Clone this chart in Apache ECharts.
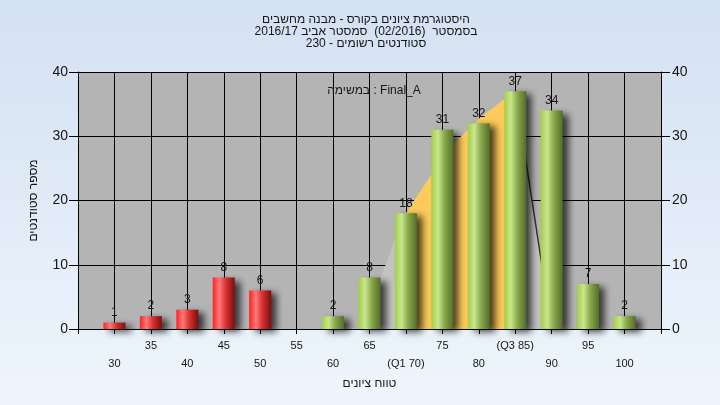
<!DOCTYPE html>
<html>
<head>
<meta charset="utf-8">
<script src="https://cdn.jsdelivr.net/npm/echarts@6/dist/echarts.min.js"></script>
<style>html,body{margin:0;padding:0;}#c{width:720px;height:405px;}</style>
</head>
<body>
<div id="c"></div>
<script>
// ---- data ----
var categories = [30, 35, 40, 45, 50, 55, 60, 65, 70, 75, 80, 85, 90, 95, 100];
var counts = [1, 2, 3, 8, 6, 0, 2, 8, 18, 31, 32, 37, 34, 7, 2];
var tickLabels = ['30', '35', '40', '45', '50', '55', '60', '65', '(Q1 70)', '75', '80', '(Q3 85)', '90', '95', '100'];
var yTicks = [0, 10, 20, 30, 40];
var curveX = [64, 66.4, 68.5, 70, 73.3, 76.7, 79.8, 83.3, 85, 90];
var curveY = [0, 7.6, 13.9, 18, 23.7, 29, 32.5, 35.6, 37, 0];
var q1 = 70, q3 = 85, passMark = 55;
var titleLines = ['היסטוגרמת ציונים בקורס - מבנה מחשבים', 'בסמסטר  (02/2016)  סמסטר אביב 2016/17', 'סטודנטים רשומים - 230'];
var subTitle = 'במשימה : Final_A';
var yName = 'מספר סטודנטים';
var xName = 'טווח ציונים';

var FONT = '"Liberation Sans", "DejaVu Sans", Arial, sans-serif';
var TXT = '#161616';

var curve = curveX.map(function (x, i) { return [x, curveY[i]]; });
var iqr = curve.filter(function (p) { return p[0] >= q1 && p[0] <= q3; });
var descending = curve.filter(function (p) { return p[0] >= q3; });

function grad(stops) {
  return { type: 'linear', x: 0, y: 0, x2: 1, y2: 0, colorStops: stops };
}
var redGrad = grad([{offset:0,color:'#ff2222'},{offset:0.3,color:'#ff7878'},{offset:0.6,color:'#d63030'},{offset:1,color:'#7c0e0e'}]);
var greenGrad = grad([{offset:0,color:'#a4cf46'},{offset:0.3,color:'#c9e68e'},{offset:0.6,color:'#88a84a'},{offset:1,color:'#556c2a'}]);

var barData = categories.map(function (c, i) {
  return { value: [c, counts[i]], itemStyle: { color: c < passMark ? redGrad : greenGrad } };
});

var lo = categories[0] - 5, hi = categories[categories.length - 1] + 5;

var yAxisBase = {
  type: 'value', min: yTicks[0], max: yTicks[yTicks.length - 1], interval: yTicks[1] - yTicks[0],
  axisLine: { show: true, lineStyle: { color: '#000', width: 1 } },
  axisTick: { show: true, length: 9, lineStyle: { color: '#000' } },
  splitLine: { show: true, lineStyle: { color: '#000', width: 1 } },
  axisLabel: { fontSize: 14, color: TXT, fontFamily: FONT, margin: 10 }
};

var option = {
  animation: false,
  backgroundColor: { type: 'linear', x: 0, y: 0, x2: 0, y2: 1, colorStops: [{offset:0,color:'#d4e1f2'},{offset:1,color:'#eef5fd'}] },
  title: [
    { text: titleLines.join('\n'), left: 361, top: 9, textAlign: 'center',
      textStyle: { fontSize: 12, fontWeight: 'normal', color: TXT, fontFamily: FONT, lineHeight: 12 } },
    { text: subTitle, left: 369, top: 80, textAlign: 'center',
      textStyle: { fontSize: 12, fontWeight: 'normal', color: TXT, fontFamily: FONT } }
  ],
  grid: { left: 78, right: 59, top: 72, bottom: 76, show: true, backgroundColor: '#b4b4b4', borderWidth: 0 },
  xAxis: {
    type: 'value', min: lo, max: hi, interval: 5,
    name: xName, nameLocation: 'middle', nameGap: 46,
    nameTextStyle: { fontSize: 12, color: TXT, fontFamily: FONT },
    axisLine: { show: true, onZero: false, lineStyle: { color: '#000', width: 1 } },
    axisTick: { show: true, length: 5, lineStyle: { color: '#000' } },
    splitLine: { show: true, lineStyle: { color: '#000', width: 1 } },
    axisLabel: {
      fontSize: 11, color: TXT, fontFamily: FONT, margin: 8, lineHeight: 18,
      showMinLabel: true, showMaxLabel: true,
      formatter: function (v) {
        var i = categories.indexOf(Math.round(v));
        if (i < 0) return '';
        return (i % 2 === 0 ? '\n' : '') + tickLabels[i];
      }
    }
  },
  yAxis: [
    Object.assign({}, yAxisBase, { position: 'left', name: yName, nameLocation: 'middle', nameGap: 38, nameRotate: 90,
      nameTextStyle: { fontSize: 12, color: TXT, fontFamily: FONT } }),
    Object.assign({}, yAxisBase, { position: 'right', axisLabel: Object.assign({}, yAxisBase.axisLabel, { margin: 11 }) })
  ],
  series: [
    { type: 'line', data: curve, symbol: 'none', lineStyle: { width: 0 }, areaStyle: { color: '#c3c3c3', opacity: 1 }, silent: true, z: 1 },
    { type: 'line', data: iqr, symbol: 'none', lineStyle: { width: 0 }, areaStyle: { color: '#fecb5b', opacity: 1 }, silent: true, z: 1 },
    { type: 'line', data: descending, symbol: 'none', lineStyle: { width: 1.5, color: '#333' }, silent: true, z: 1 },
    {
      type: 'bar', data: barData, barWidth: 22, z: 3,
      itemStyle: { shadowBlur: 7, shadowOffsetX: 6, shadowOffsetY: 3, shadowColor: 'rgba(0,0,0,0.7)' },
      label: { show: true, position: 'top', distance: 4, fontSize: 12, color: TXT, fontFamily: FONT,
        formatter: function (p) { return p.value[1] === 0 ? '' : String(p.value[1]); } }
    }
  ]
};
echarts.init(document.getElementById('c')).setOption(option);
</script>
</body>
</html>
